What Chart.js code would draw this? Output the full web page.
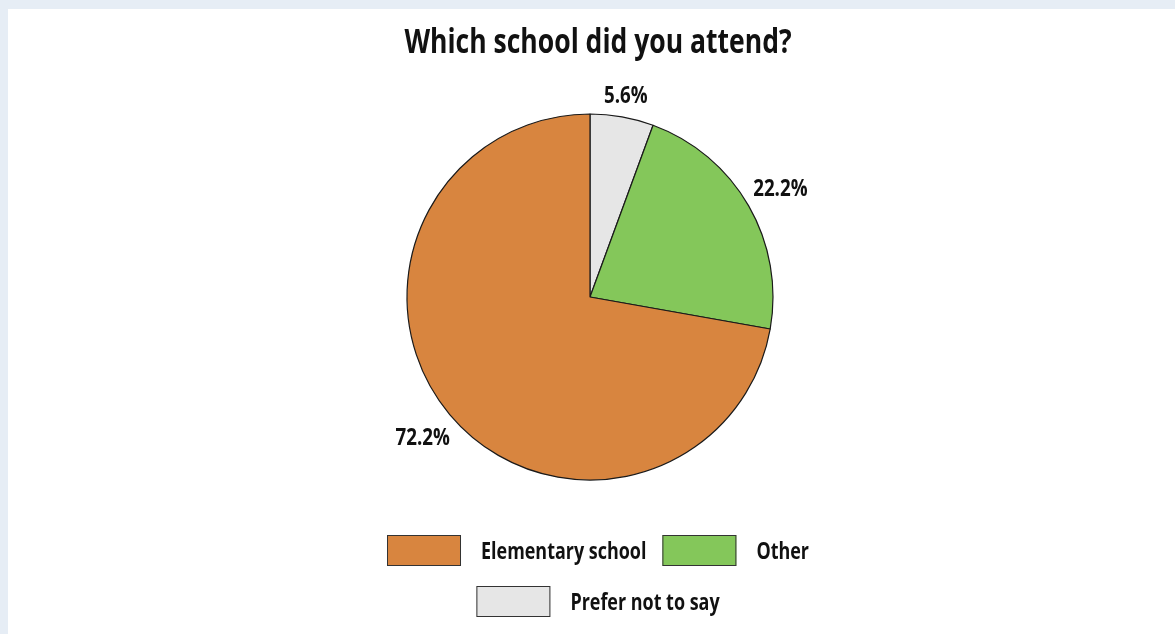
<!DOCTYPE html>
<html lang="en">
<head>
  <meta charset="UTF-8" />
  <title>Which school did you attend?</title>
  <script src="https://cdn.jsdelivr.net/npm/chart.js"></script>
  <style>
    html, body { margin: 0; padding: 0; }
    body { width: 1175px; height: 634px; background: #e6edf5; overflow: hidden; }
    .painel { position: absolute; left: 8px; top: 9px; width: 1167px; height: 625px; background: #ffffff; }
  </style>
</head>
<body>
  <div class="painel">
    <canvas id="graficoEscola" width="1167" height="625"></canvas>
  </div>

  <script>
    var titulo = "Which school did you attend?";
    // slices go clockwise from 12 o'clock
    var categorias = ["Prefer not to say", "Other", "Elementary school"];
    var percentuais = [5.6, 22.2, 72.2];
    var cores = ["#e6e6e6", "#84c75a", "#d8853f"];
    // legend rows, by index into categorias
    var linhasLegenda = [[2, 1], [0]];

    var fonte = "'Open Sans', 'Noto Sans', sans-serif";
    var estreito = 0.78; // horizontal squeeze for the condensed look
    var centroX = 590;

    // writes text squeezed horizontally; returns the drawn width
    function escreve(ctx, texto, x, y, alinha) {
      var larg = ctx.measureText(texto).width * estreito;
      var x0 = x;
      if (alinha == "center") x0 = x - larg / 2;
      if (alinha == "right") x0 = x - larg;
      ctx.save();
      ctx.textAlign = "left";
      ctx.scale(estreito, 1);
      ctx.fillText(texto, x0 / estreito, y);
      ctx.restore();
      return larg;
    }

    function largura(ctx, texto) {
      return ctx.measureText(texto).width * estreito;
    }

    var textos = {
      id: "textos",
      afterDraw: function (chart) {
        var ctx = chart.ctx;
        ctx.save();
        ctx.fillStyle = "#111111";
        ctx.textBaseline = "alphabetic";

        // title
        ctx.font = "bold 34px " + fonte;
        escreve(ctx, titulo, centroX, 44, "center");

        // percentages outside each slice
        ctx.font = "bold 24px " + fonte;
        var arcos = chart.getDatasetMeta(0).data;
        for (var i = 0; i < arcos.length; i++) {
          var a = arcos[i].getProps(["x", "y", "startAngle", "endAngle", "outerRadius"], true);
          var meio = (a.startAngle + a.endAngle) / 2;
          var dx = Math.cos(meio), dy = Math.sin(meio);
          var texto = percentuais[i].toFixed(1) + "%";
          var meiaLarg = largura(ctx, texto) / 2;
          var d = a.outerRadius + 8 + Math.abs(dx) * meiaLarg + Math.abs(dy) * 10;
          escreve(ctx, texto, a.x + dx * d, a.y + dy * d + 8, "center");
        }

        // legend
        ctx.font = "bold 23px " + fonte;
        var caixaL = 74, caixaA = 31, vaoTexto = 20, vaoItem = 16;
        var topos = [526, 577];
        for (var l = 0; l < linhasLegenda.length; l++) {
          var itens = linhasLegenda[l];
          var total = 0;
          for (var k = 0; k < itens.length; k++) {
            total += caixaL + vaoTexto + largura(ctx, categorias[itens[k]]);
            if (k > 0) total += vaoItem;
          }
          var x = centroX - total / 2;
          var y = topos[l];
          for (var k = 0; k < itens.length; k++) {
            var idx = itens[k];
            ctx.fillStyle = cores[idx];
            ctx.fillRect(x, y, caixaL, caixaA);
            ctx.strokeStyle = "#333333";
            ctx.lineWidth = 1;
            ctx.strokeRect(x + 0.5, y + 0.5, caixaL - 1, caixaA - 1);
            ctx.fillStyle = "#111111";
            x += caixaL + vaoTexto;
            x += escreve(ctx, categorias[idx], x, y + caixaA / 2 + 8.5, "left") + vaoItem;
          }
        }
        ctx.restore();
      }
    };

    var chartEscola = new Chart(graficoEscola, {
      type: "pie",
      data: {
        labels: categorias,
        datasets: [{
          data: percentuais,
          backgroundColor: cores,
          borderColor: "#1a1a1a",
          borderWidth: 1.2,
          radius: 183
        }]
      },
      options: {
        responsive: false,
        animation: false,
        layout: { padding: { top: 0, bottom: 49, left: 0, right: 3 } },
        plugins: {
          title: { display: false },
          legend: { display: false },
          tooltip: { enabled: false }
        }
      },
      plugins: [textos]
    });
  </script>
</body>
</html>
